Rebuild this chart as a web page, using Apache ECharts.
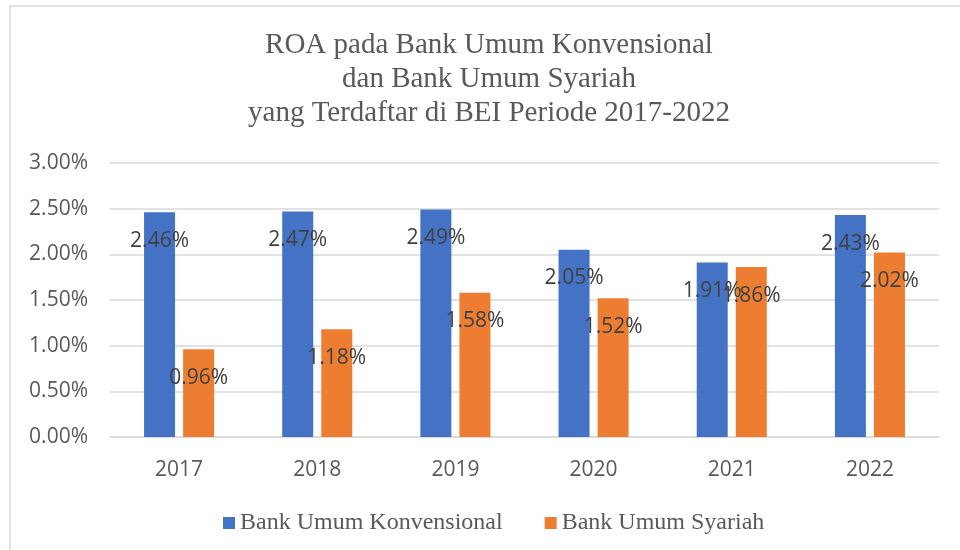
<!DOCTYPE html>
<html lang="id">
<head>
    <meta charset="UTF-8">
    <title>ROA Bank Umum</title>
    <script src="https://cdn.jsdelivr.net/npm/echarts@6/dist/echarts.min.js"></script>
    <style>
        body { margin: 0; background: #fff; }
    </style>
</head>
<body>
    <div id="main" style="width: 960px;height:550px;"></div>
    <script type="text/javascript">
        // data (ROA in %)
        const years = ['2017', '2018', '2019', '2020', '2021', '2022'];
        const konvensional = [2.46, 2.47, 2.49, 2.05, 1.91, 2.43];
        const syariah = [0.96, 1.18, 1.58, 1.52, 1.86, 2.02];
        const yTicks = [0, 0.5, 1, 1.5, 2, 2.5, 3];
        const titleLines = [
            'ROA pada Bank Umum Konvensional',
            'dan Bank Umum Syariah',
            'yang Terdaftar di BEI Periode 2017-2022'
        ];

        const sans = '"Open Sans", "Liberation Sans", sans-serif';
        const serif = '"Liberation Serif", "DejaVu Serif", serif';

        const barLabel = {
            show: true,
            position: 'insideTop',
            distance: 18,
            color: '#404040',
            fontFamily: sans,
            fontSize: 21,
            formatter: p => p.value.toFixed(2) + '%'
        };

        let options = {
            animation: false,
            backgroundColor: '#fff',
            graphic: [
                {
                    type: 'rect',
                    shape: { x: 10, y: 6, width: 1000, height: 600 },
                    style: { fill: 'none', stroke: '#d9d9d9', lineWidth: 1.5 },
                    silent: true
                },
                {
                    type: 'text',
                    x: 489,
                    y: 28,
                    style: {
                        text: titleLines.join('\n'),
                        align: 'center',
                        verticalAlign: 'top',
                        fill: '#595959',
                        font: '29px ' + serif,
                        lineHeight: 34
                    }
                }
            ],
            grid: { left: 110, right: 21, top: 163, bottom: 113 },
            legend: {
                left: 218,
                top: 506,
                itemWidth: 12,
                itemHeight: 12,
                itemGap: 42,
                icon: 'rect',
                textStyle: { fontFamily: serif, fontSize: 24, color: '#595959' },
                data: ['Bank Umum Konvensional', 'Bank Umum Syariah']
            },
            xAxis: {
                type: 'category',
                data: years,
                axisLine: { lineStyle: { color: '#d9d9d9', width: 1.5 } },
                axisTick: { show: false },
                axisLabel: { color: '#595959', fontFamily: sans, fontSize: 21, margin: 23 }
            },
            yAxis: {
                type: 'value',
                min: yTicks[0],
                max: yTicks[yTicks.length - 1],
                interval: yTicks[1] - yTicks[0],
                axisLine: { show: false },
                axisTick: { show: false },
                splitLine: { lineStyle: { color: '#d9d9d9', width: 1.5 } },
                axisLabel: {
                    color: '#595959',
                    fontFamily: sans,
                    fontSize: 21,
                    margin: 22,
                    formatter: v => v.toFixed(2) + '%'
                }
            },
            series: [
                {
                    name: 'Bank Umum Konvensional',
                    type: 'bar',
                    data: konvensional,
                    barWidth: 31,
                    barGap: '26%',
                    itemStyle: { color: '#4472c4' },
                    label: barLabel
                },
                {
                    name: 'Bank Umum Syariah',
                    type: 'bar',
                    data: syariah,
                    barWidth: 31,
                    barGap: '26%',
                    itemStyle: { color: '#ed7d31' },
                    label: barLabel
                }
            ]
        };

        let myChart = echarts.init(document.getElementById('main'));
        myChart.setOption(options);
    </script>
</body>
</html>
